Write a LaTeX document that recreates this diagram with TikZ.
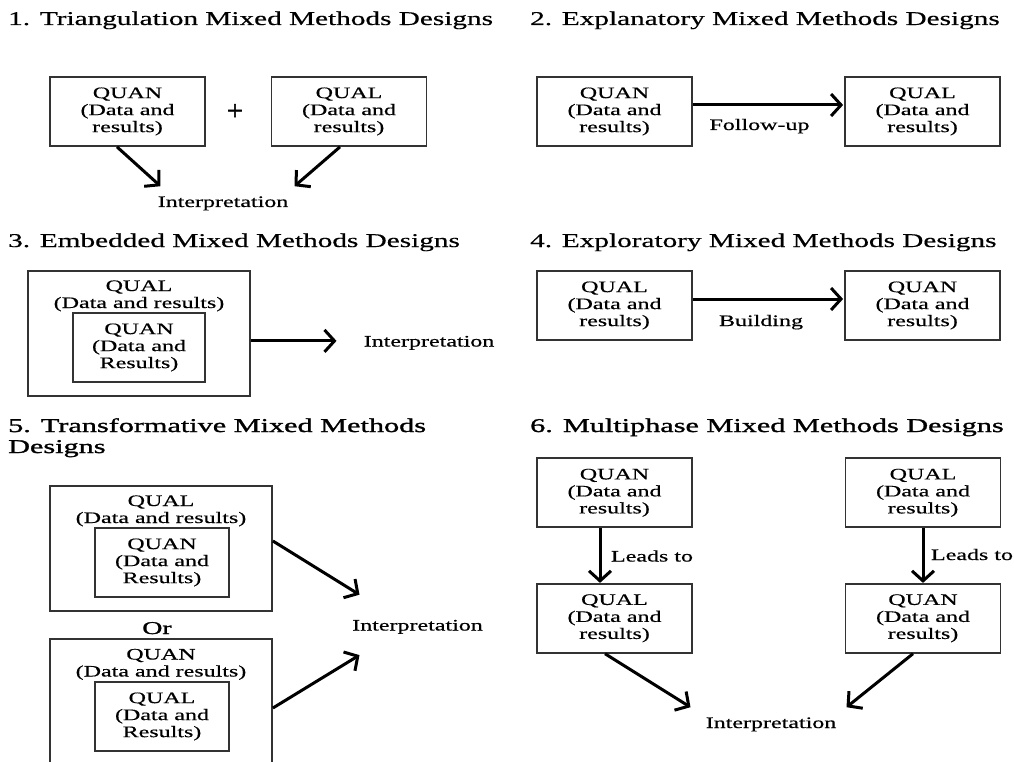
\documentclass[tikz,border=0pt]{standalone}
\usepackage{fontspec}
\setmainfont{Liberation Serif}
\newfontfamily\wfont[FakeStretch=1.5,FakeBold=0.5]{Liberation Serif}
\newfontfamily\wbfont[FakeStretch=1.55,FakeBold=1.4]{Liberation Serif}
\newfontfamily\plusfont[FakeBold=2]{Liberation Serif}
\usetikzlibrary{arrows.meta,calc}
\begin{document}
\begin{tikzpicture}[x=1pt,y=-1pt,
  box/.style={draw=black!80, line width=1.8pt, minimum width=155pt, minimum height=69pt,
    inner sep=0pt, align=center, font=\wfont\fontsize{16}{17}\selectfont},
  frame/.style={draw=black!80, line width=1.8pt, inner sep=0pt},
  ttl/.style={anchor=base west, inner sep=0pt, font=\wfont\fontsize{19.5}{22}\selectfont},
  ttlb/.style={anchor=base west, inner sep=0pt, font=\wbfont\fontsize{19.5}{22}\selectfont},
  lbl/.style={anchor=base, inner sep=0pt, font=\wfont\fontsize{16}{17}\selectfont},
  arr/.style={line width=3pt, -{Straight Barb[length=10pt,width=22pt]}}]
\clip (0,0) rectangle (1014,762);
\fill[white] (0,0) rectangle (1014,762);

% 1
\node[ttl] (t1) at (8,25) {1. Triangulation Mixed Methods Designs};
\node[box] (quan1) at (127.5,111.5) {QUAN\\(Data and\\results)};
\node[box] (qual1) at (349,111.5) {QUAL\\(Data and\\results)};
\node[inner sep=0pt, font=\plusfont\fontsize{28}{30}\selectfont] (plus) at (235,112) {+};
\node[lbl] (int1) at (223,207) {Interpretation};
\draw[arr] ([xshift=-10.5pt]quan1.south) -- ($(int1.north west)+(3,-10)$);
\draw[arr] ([xshift=-9pt]qual1.south) -- ($(int1.north east)+(6,-10)$);

% 2
\node[ttl] (t2) at (530,25) {2. Explanatory Mixed Methods Designs};
\node[box] (quan2) at (614.5,111.5) {QUAN\\(Data and\\results)};
\node[box] (qual2) at (922.5,111.5) {QUAL\\(Data and\\results)};
\draw[arr] ([yshift=6.5pt]quan2.east) -- ([yshift=6.5pt,xshift=-1pt]qual2.west);
\node[lbl] (fu) at (759.5,130) {Follow-up};

% 3
\node[ttl] (t3) at (8,247) {3. Embedded Mixed Methods Designs};
\node[frame, minimum width=222pt, minimum height=125pt] (o3) at (139,333.5) {};
\node[lbl] (o3a) at (139,291) {QUAL};
\node[lbl] (o3b) at (139,308) {(Data and results)};
\node[box, minimum width=132pt] (i3) at (139,347.5) {QUAN\\(Data and\\Results)};
\node[lbl] (int3) at (429,346.5) {Interpretation};
\coordinate (a3) at ($(int3.west)+(-27,-2)$);
\draw[arr] (o3.east |- a3) -- (a3);

% 4
\node[ttl] (t4) at (530,247) {4. Exploratory Mixed Methods Designs};
\node[box] (qual4) at (614.5,305.5) {QUAL\\(Data and\\results)};
\node[box] (quan4) at (922.5,305.5) {QUAN\\(Data and\\results)};
\draw[arr] ([yshift=6.5pt]qual4.east) -- ([yshift=6.5pt,xshift=-1pt]quan4.west);
\node[lbl] (bu) at (761,326) {Building};

% 5
\node[ttlb] (t5a) at (8,432) {5. Transformative Mixed Methods};
\node[ttlb] (t5b) at (8,453) {Designs};
\node[frame, minimum width=222pt, minimum height=125pt] (o5a) at (161,548.5) {};
\node[lbl] (o5a1) at (161,506) {QUAL};
\node[lbl] (o5a2) at (161,523) {(Data and results)};
\node[box, minimum width=134pt] (i5a) at (162,562.5) {QUAN\\(Data and\\Results)};
\node[anchor=base, inner sep=0pt, font=\wbfont\fontsize{18}{20}\selectfont] (or) at (157,634) {Or};
\node[frame, minimum width=222pt, minimum height=130pt] (o5b) at (161,704) {};
\node[lbl] (o5b1) at (161,659.5) {QUAN};
\node[lbl] (o5b2) at (161,676.5) {(Data and results)};
\node[box, minimum width=134pt] (i5b) at (162,716.5) {QUAL\\(Data and\\Results)};
\node[lbl] (int5) at (417.5,630.5) {Interpretation};
\draw[arr] ($(o5a.east)+(0,-7.5)$) -- ($(int5.north west)+(7.5,-25)$);
\draw[arr] ($(o5b.east)+(0,4)$) -- ($(int5.south west)+(7.5,21)$);

% 6
\node[ttlb] (t6) at (530,432) {6. Multiphase Mixed Methods Designs};
\node[box] (quan6a) at (614.5,492.8) {QUAN\\(Data and\\results)};
\node[box] (qual6a) at (614.5,618.3) {QUAL\\(Data and\\results)};
\node[box] (qual6b) at (923,492.8) {QUAL\\(Data and\\results)};
\node[box] (quan6b) at (923,618.3) {QUAN\\(Data and\\results)};
\draw[arr] ([xshift=-14.5pt]quan6a.south) -- ([xshift=-14.5pt]qual6a.north);
\draw[arr] (qual6b.south) -- (quan6b.north);
\node[lbl] (lt1) at (652,561.5) {Leads to};
\node[lbl] (lt2) at (972,560) {Leads to};
\node[lbl] (int6) at (771,728) {Interpretation};
\draw[arr] ([xshift=-9.5pt]qual6a.south) -- ($(int6.north west)+(-15,-10)$);
\draw[arr] ([xshift=-10pt]quan6b.south) -- ($(int6.north east)+(10,-10)$);
\end{tikzpicture}
\end{document}
